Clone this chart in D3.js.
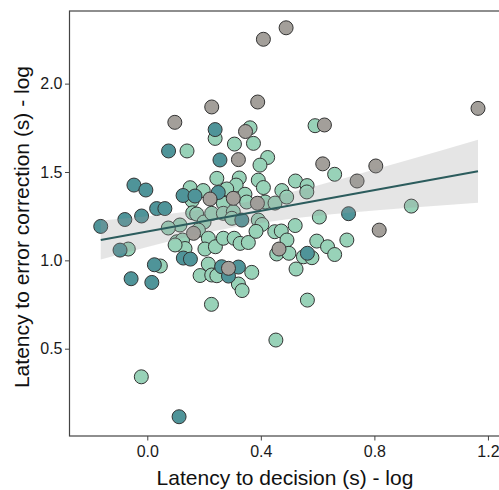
<!DOCTYPE html>
<html>
<head>
<meta charset="utf-8">
<script src="https://cdn.jsdelivr.net/npm/d3@7"></script>
<style>
  body { margin: 0; background: #fff; }
  svg { display: block; font-family: "Liberation Sans", Arial, sans-serif; }
</style>
</head>
<body>
<div id="chart"></div>
<script>
  // points: [decision latency (log), correction latency (log)]
  const greyPoints = [
    [0.489, 2.316], [0.409, 2.251], [0.227, 1.868], [0.389, 1.896], [0.097, 1.781],
    [0.346, 1.729], [0.624, 1.766], [1.165, 1.860], [0.321, 1.570], [0.618, 1.546],
    [0.805, 1.534], [0.739, 1.449], [0.817, 1.171], [0.221, 1.347], [0.303, 1.351],
    [0.388, 1.323], [0.163, 1.153], [0.286, 0.955], [0.464, 1.064]
  ];
  const tealPoints = [
    [0.239, 1.740], [0.075, 1.619], [0.256, 1.568], [-0.047, 1.426], [-0.005, 1.398],
    [0.126, 1.367], [0.168, 1.364], [0.250, 1.384], [0.033, 1.293], [0.062, 1.293],
    [-0.079, 1.231], [-0.020, 1.251], [-0.164, 1.192], [0.709, 1.264], [0.333, 1.228],
    [-0.096, 1.058], [0.127, 1.013], [0.152, 1.007], [0.025, 0.975], [-0.057, 0.896],
    [0.016, 0.875], [0.262, 0.964], [0.321, 0.962], [0.286, 0.911], [0.564, 1.040],
    [0.112, 0.115]
  ];
  const greenPoints = [
    [0.239, 1.690], [0.362, 1.750], [0.591, 1.762], [0.307, 1.658], [0.374, 1.662],
    [0.140, 1.619], [0.424, 1.582], [0.397, 1.539], [0.660, 1.487], [0.245, 1.464],
    [0.324, 1.466], [0.313, 1.426], [0.391, 1.454], [0.409, 1.412], [0.522, 1.449],
    [0.563, 1.423], [0.151, 1.411], [0.197, 1.395], [0.158, 1.338], [0.280, 1.404],
    [0.268, 1.323], [0.344, 1.374], [0.350, 1.330], [0.415, 1.330], [0.450, 1.324],
    [0.474, 1.395], [0.491, 1.358], [0.562, 1.387], [0.606, 1.245], [0.930, 1.307],
    [0.160, 1.269], [0.115, 1.200], [0.074, 1.183], [0.174, 1.262], [0.200, 1.217],
    [0.227, 1.266], [0.268, 1.266], [0.303, 1.275], [0.391, 1.228], [0.404, 1.203],
    [0.298, 1.238], [0.180, 1.171], [0.104, 1.105], [0.124, 1.115], [0.133, 1.067],
    [0.098, 1.087], [0.215, 1.125], [0.203, 1.064], [0.240, 1.077], [0.268, 1.125],
    [0.306, 1.125], [0.327, 1.096], [0.356, 1.101], [0.383, 1.164], [0.449, 1.162],
    [0.472, 1.166], [0.521, 1.197], [0.492, 1.115], [0.597, 1.109], [0.635, 1.077],
    [0.660, 1.033], [0.703, 1.115], [0.456, 1.036], [0.499, 1.040], [0.550, 1.020],
    [0.580, 1.015], [0.524, 0.951], [-0.067, 1.064], [0.046, 0.968], [0.215, 0.979],
    [0.186, 0.914], [0.227, 0.917], [0.245, 0.913], [0.368, 0.932], [0.321, 0.866],
    [0.334, 0.829], [0.564, 0.775], [0.226, 0.751], [0.453, 0.549], [-0.021, 0.341]
  ];

  // fitted line and its confidence band
  const fitRange = [-0.164, 1.165];
  const fitIntercept = 1.163;
  const fitSlope = 0.293;
  const bandX = [-0.164, 0, 0.15, 0.3, 0.5, 0.7, 0.9, 1.165];
  const bandHalf = [0.110, 0.087, 0.071, 0.065, 0.075, 0.100, 0.132, 0.178];

  const xTicks = [0.0, 0.4, 0.8, 1.2];
  const yTicks = [0.5, 1.0, 1.5, 2.0];

  const width = 499;
  const height = 490;
  const margin = { top: 11, right: -2, bottom: 54, left: 69.5 };

  const svg = d3.select("#chart")
    .append("svg")
    .attr("width", width)
    .attr("height", height);

  const xScale = d3.scaleLinear()
    .domain([-0.274, 1.246])
    .range([margin.left, width - margin.right]);
  const yScale = d3.scaleLinear()
    .domain([0.006, 2.411])
    .range([height - margin.bottom, margin.top]);

  const plot = svg.append("g");

  const fill = { grey: "#a39f9a", teal: "#4f9499", green: "#98d2b8" };
  const layers = [
    { pts: greenPoints, color: fill.green },
    { pts: tealPoints, color: fill.teal },
    { pts: greyPoints, color: fill.grey }
  ];
  layers.forEach(layer => {
    plot.append("g")
      .selectAll("circle")
      .data(layer.pts)
      .join("circle")
      .attr("cx", d => xScale(d[0]))
      .attr("cy", d => yScale(d[1]))
      .attr("r", 7)
      .attr("fill", layer.color)
      .attr("stroke", "#333")
      .attr("stroke-width", 1);
  });

  const fitY = x => fitIntercept + fitSlope * x;
  const bandData = bandX.map((x, i) => ({ x, lo: fitY(x) - bandHalf[i], hi: fitY(x) + bandHalf[i] }));

  plot.append("path")
    .datum(bandData)
    .attr("d", d3.area()
      .x(d => xScale(d.x))
      .y0(d => yScale(d.lo))
      .y1(d => yScale(d.hi))
      .curve(d3.curveMonotoneX))
    .attr("fill", "#999")
    .attr("fill-opacity", 0.26);

  plot.append("path")
    .datum(fitRange)
    .attr("d", d3.line()
      .x(d => xScale(d))
      .y(d => yScale(fitY(d))))
    .attr("fill", "none")
    .attr("stroke", "#2c5c5d")
    .attr("stroke-width", 2.2);

  // frame
  svg.append("rect")
    .attr("x", margin.left)
    .attr("y", margin.top)
    .attr("width", width - margin.right - margin.left)
    .attr("height", height - margin.bottom - margin.top)
    .attr("fill", "none")
    .attr("stroke", "#444")
    .attr("stroke-width", 1.2);

  const xAxis = svg.append("g")
    .attr("transform", `translate(0,${height - margin.bottom})`)
    .call(d3.axisBottom(xScale).tickValues(xTicks).tickFormat(d3.format(".1f")).tickSizeOuter(0).tickSize(4.5).tickPadding(5.5));
  const yAxis = svg.append("g")
    .attr("transform", `translate(${margin.left},0)`)
    .call(d3.axisLeft(yScale).tickValues(yTicks).tickFormat(d3.format(".1f")).tickSizeOuter(0).tickSize(4.5).tickPadding(2.5));
  [xAxis, yAxis].forEach(g => {
    g.select(".domain").remove();
    g.selectAll(".tick line").attr("stroke", "#444");
    g.selectAll(".tick text")
      .attr("fill", "#1a1a1a")
      .style("font-size", "16px")
      .style("font-family", "'Liberation Sans', Arial, sans-serif");
  });

  svg.append("text")
    .attr("x", 285)
    .attr("y", 485)
    .attr("text-anchor", "middle")
    .attr("fill", "#111")
    .style("font-size", "21px")
    .text("Latency to decision (s) - log");

  svg.append("text")
    .attr("transform", "translate(28.5,227) rotate(-90)")
    .attr("text-anchor", "middle")
    .attr("fill", "#111")
    .style("font-size", "21px")
    .text("Latency to error correction (s) - log");
</script>
</body>
</html>
